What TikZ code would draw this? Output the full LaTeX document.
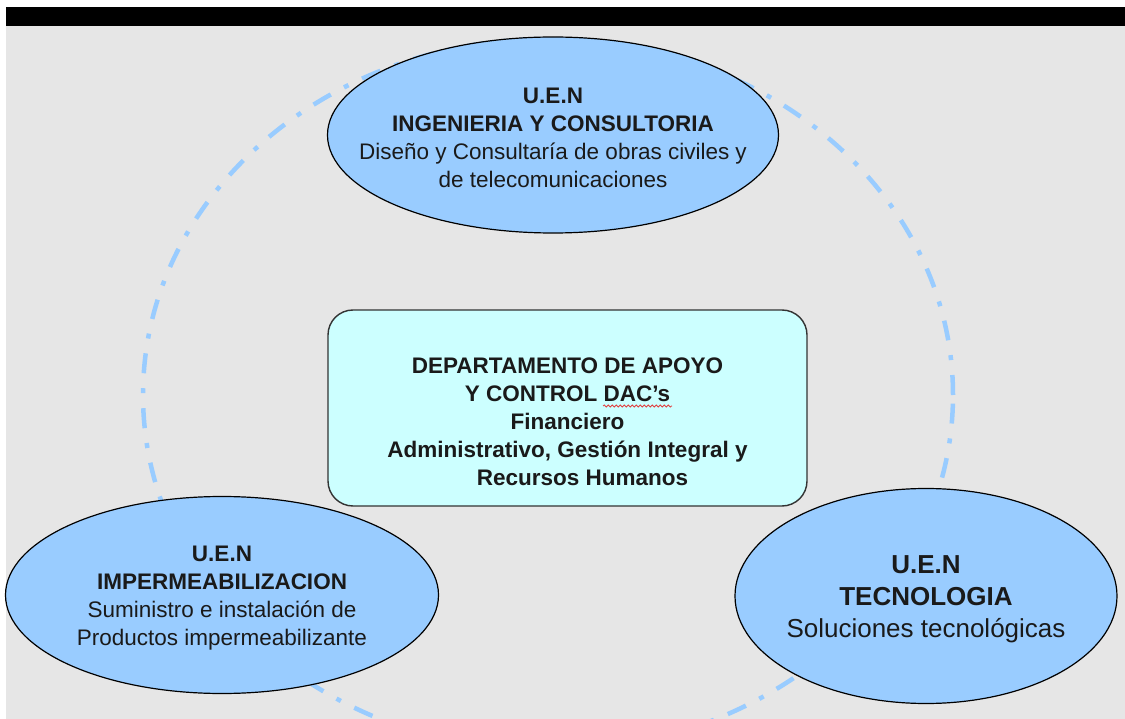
\documentclass[tikz,border=0pt]{standalone}
\usepackage{fontspec}
\setmainfont{Liberation Sans}
\usetikzlibrary{shapes.geometric,decorations.pathmorphing}
\definecolor{azulUEN}{HTML}{99CCFF}
\definecolor{cianDAC}{HTML}{CCFFFF}
\definecolor{fondoGris}{HTML}{E6E6E6}
\definecolor{bordeDAC}{HTML}{333333}
\definecolor{rojoSubr}{HTML}{E04040}
\definecolor{textoOsc}{HTML}{1A1A1A}

\begin{document}
\begin{tikzpicture}[x=1pt,y=-1pt]
	\tikzstyle{uen}=[ellipse,draw,line width=1.2pt,fill=azulUEN,inner sep=0pt]
	\tikzstyle{texto_uen}=[align=center,inner sep=0pt,text=textoOsc,yshift=-3pt,font=\fontsize{22.5}{28}\selectfont]
	\tikzstyle{caja_dac}=[rectangle,rounded corners=25pt,draw=bordeDAC,line width=1.4pt,fill=cianDAC,minimum width=479pt,minimum height=196pt]
	\tikzstyle{texto_dac}=[align=center,inner sep=0pt,text=textoOsc,font=\bfseries\fontsize{22.5}{28}\selectfont]
	\tikzstyle{anillo}=[draw=azulUEN,line width=4.5pt,dash pattern=on 20pt off 15pt on 5pt off 15pt]
	\useasboundingbox (0,0) rectangle (1125,719);
	\fill[fondoGris] (6,26) rectangle (1125,719);
	\fill[black] (6,7) rectangle (1125,26); % barra
	\draw[anillo] (548,395) ellipse [x radius=405pt, y radius=356pt];
	\node[uen,minimum width=451pt,minimum height=196pt] (ingenieria) at (553,135) {}; % arriba
	\node[texto_uen] (ingenieriatexto) at (ingenieria.center) {\textbf{U.E.N}\\ \textbf{INGENIERIA Y CONSULTORIA}\\ Diseño y Consultaría de obras civiles y\\ de telecomunicaciones};
	\node[uen,minimum width=433pt,minimum height=197pt] (impermeab) at (222,595) {}; % izquierda
	\node[texto_uen] (impermeabtexto) at (impermeab.center) {\textbf{U.E.N}\\ \textbf{IMPERMEABILIZACION}\\ Suministro e instalación de\\ Productos impermeabilizante};
	\node[uen,minimum width=382pt,minimum height=215pt] (tecnologia) at (926,596) {}; % derecha
	\node[texto_uen,font=\fontsize{26}{32}\selectfont] (tecnologiatexto) at (tecnologia.center) {\textbf{U.E.N}\\ \textbf{TECNOLOGIA}\\ Soluciones tecnológicas};
	\node[caja_dac] (dac) at (567.5,408) {};
	\node[texto_dac] (dactexto) at (567.5,421.5) {DEPARTAMENTO DE APOYO\\ Y CONTROL DAC’s\\ Financiero\\ Administrativo, Gestión Integral y\\ \hspace*{30pt}Recursos Humanos};
	\draw[rojoSubr,line width=0.8pt,decorate,decoration={snake,amplitude=1pt,segment length=4pt}] (603,406) -- (672,406);
\end{tikzpicture}
\end{document}
